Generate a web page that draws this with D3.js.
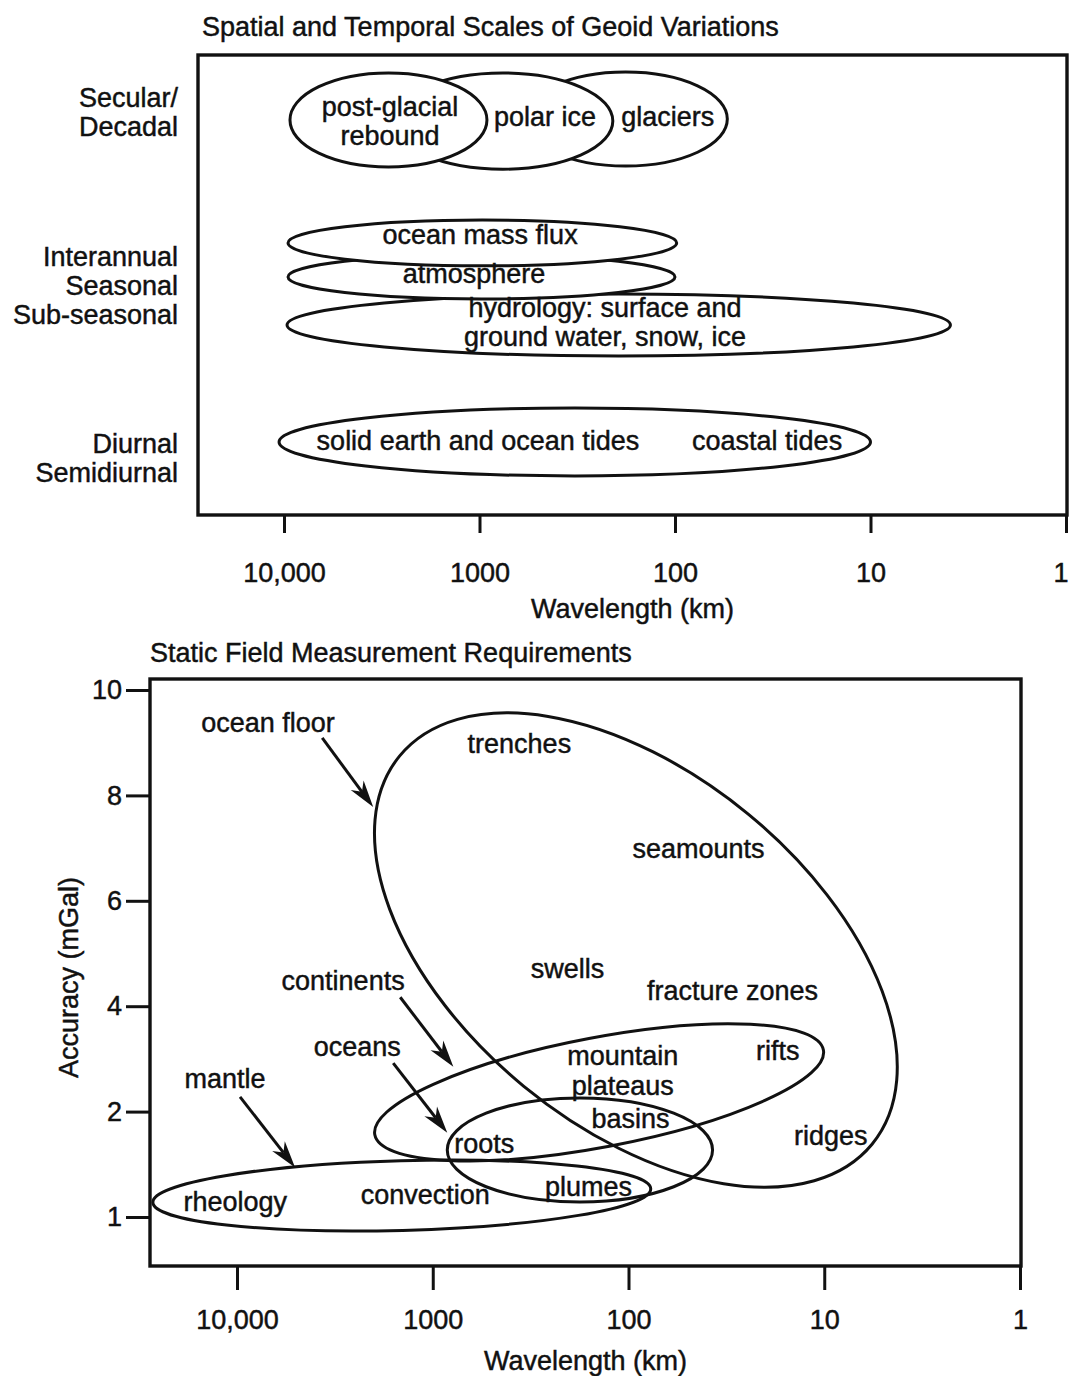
<!DOCTYPE html>
<html>
<head>
<meta charset="utf-8">
<script src="https://cdn.jsdelivr.net/npm/d3@7"></script>
<style>
  body { margin: 0; background: #fff; }
  svg text { font-family: "Liberation Sans", Arial, Helvetica, sans-serif; fill: #111; stroke: #111; stroke-width: 0.45px; }
</style>
</head>
<body>
<svg id="chart" width="1070" height="1376"></svg>
<script>
// ---------- data ----------
// wavelength ticks (km), shared by both panels
const wavelengthTicks = [10000, 1000, 100, 10, 1];

// upper panel: temporal bands (rows) and their text lines
const timeBands = ["secular", "interannual", "diurnal"];
const timeBandLabels = [
  ["Secular/", "Decadal"],
  ["Interannual", "Seasonal", "Sub-seasonal"],
  ["Diurnal", "Semidiurnal"]
];

// geoid signal sources: wavelength span [longest, shortest] in km,
// lane = offset from band centre and half = half-thickness, both in text lines
const geoidSources = [
  { name: "glaciers",             band: "secular",     span: [592, 54],    lane: 0.24,  half: 1.62 },
  { name: "polar ice",            band: "secular",     span: [2770, 208],  lane: 0.31,  half: 1.66 },
  { name: "post-glacial rebound", band: "secular",     span: [9320, 916],  lane: 0.27,  half: 1.62 },
  { name: "hydrology",            band: "interannual", span: [9650, 3.9],  lane: 1.38,  half: 1.07 },
  { name: "atmosphere",           band: "interannual", span: [9540, 100],  lane: -0.28, half: 0.76 },
  { name: "ocean mass flux",      band: "interannual", span: [9540, 98],   lane: -1.45, half: 0.79 },
  { name: "tides",                band: "diurnal",     span: [10600, 10],  lane: -0.55, half: 1.17 }
];

const geoidLabels = [
  { lines: ["post-glacial", "rebound"],                     band: "secular",     km: 2870, lane: 0.34 },
  { lines: ["polar ice"],                                   band: "secular",     km: 462,  lane: 0.2 },
  { lines: ["glaciers"],                                    band: "secular",     km: 109,  lane: 0.2 },
  { lines: ["ocean mass flux"],                             band: "interannual", km: 993,  lane: -1.69 },
  { lines: ["atmosphere"],                                  band: "interannual", km: 1067, lane: -0.34 },
  { lines: ["hydrology: surface and", "ground water, snow, ice"], band: "interannual", km: 228, lane: 1.31 },
  { lines: ["solid earth and ocean tides"],                 band: "diurnal",     km: 1018, lane: -0.55 },
  { lines: ["coastal tides"],                               band: "diurnal",     km: 33.8, lane: -0.55 }
];

// lower panel: accuracy ticks (mGal), equally spaced on the axis
const accuracyTicks = [1, 2, 4, 6, 8, 10];

// requirement regions: long axis from [km, mGal] to [km, mGal], width/length ratio
const requirementRegions = [
  { name: "ocean floor", from: [1475, 8.75],  to: [5.7, 1.69],  ratio: 0.577 },
  { name: "continents",  from: [1977, 1.78],  to: [10.1, 3.17], ratio: 0.24 },
  { name: "oceans",      from: [843, 1.636],  to: [37.2, 1.636], ratio: 0.392 },
  { name: "mantle",      from: [26900, 1.139], to: [77, 1.268], ratio: 0.14 }
];

const featureLabels = [
  { text: "trenches",       km: 361,   mgal: 8.96 },
  { text: "seamounts",      km: 43.9,  mgal: 6.96 },
  { text: "swells",         km: 205,   mgal: 4.69 },
  { text: "fracture zones", km: 29.4,  mgal: 4.27 },
  { text: "mountain",       km: 107,   mgal: 3.04 },
  { text: "plateaus",       km: 107,   mgal: 2.47 },
  { text: "rifts",          km: 17.3,  mgal: 3.13 },
  { text: "basins",         km: 97.7,  mgal: 1.92 },
  { text: "roots",          km: 545,   mgal: 1.68 },
  { text: "ridges",         km: 9.27,  mgal: 1.76 },
  { text: "plumes",         km: 160,   mgal: 1.275 },
  { text: "rheology",       km: 10200, mgal: 1.133 },
  { text: "convection",     km: 1092,  mgal: 1.2 }
];

// group names with arrows pointing at their regions
const groupArrows = [
  { text: "ocean floor", at: [6940, 9.35],  from: [3670, 9.09], to: [2015, 7.78] },
  { text: "continents",  at: [2870, 4.46],  from: [1466, 4.17], to: [785, 2.85] },
  { text: "oceans",      at: [2432, 3.21],  from: [1592, 2.92], to: [843, 1.80] },
  { text: "mantle",      at: [11520, 2.60], from: [9650, 2.28], to: [5050, 1.47] }
];

// ---------- layout ----------
const svg = d3.select("#chart");
const FS = 27;          // font size
const LINE = 29;        // text line height
const STROKE = 3;       // outline width
const fmtKm = d => d === 10000 ? "10,000" : String(d);

function arrowHead(g, x1, y1, x2, y2) {
  const L = 27, W = 16;
  const dx = x2 - x1, dy = y2 - y1, len = Math.hypot(dx, dy);
  const ux = dx / len, uy = dy / len, nx = -uy, ny = ux;
  const bx = x2 - ux * L, by = y2 - uy * L;
  const mx = x2 - ux * L * 0.7, my = y2 - uy * L * 0.7;
  g.append("line")
    .attr("x1", x1).attr("y1", y1).attr("x2", mx).attr("y2", my)
    .attr("stroke", "#111").attr("stroke-width", STROKE);
  g.append("path")
    .attr("d", `M${x2},${y2}L${bx + nx * W / 2},${by + ny * W / 2}L${mx},${my}L${bx - nx * W / 2},${by - ny * W / 2}Z`)
    .attr("fill", "#111");
}

function styleAxis(g) {
  g.select(".domain").remove();
  g.selectAll(".tick line").attr("stroke", "#111").attr("stroke-width", STROKE);
  g.selectAll(".tick text").attr("font-size", FS).attr("fill", "#111")
    .attr("font-family", "Liberation Sans, Arial, sans-serif");
}

// keep the right-most wavelength label inside the page
function tuckLastLabel(ax) {
  ax.selectAll(".tick").filter(d => d === 1).select("text")
    .attr("text-anchor", "end").attr("dx", 2);
}

// ---------- upper panel ----------
{
  const box = { x0: 198, x1: 1067, y0: 55, y1: 515 };
  const x = d3.scaleLog().domain([10000, 1]).range([284, 1066]);
  const band = d3.scalePoint().domain(timeBands).range([box.y0, box.y1]).padding(0.33);
  const g = svg.append("g");

  g.append("text").attr("x", 202).attr("y", 36).attr("font-size", FS)
    .text("Spatial and Temporal Scales of Geoid Variations");

  // band labels left of the box
  timeBands.forEach((b, i) => {
    const lines = timeBandLabels[i];
    lines.forEach((t, j) => {
      g.append("text")
        .attr("x", 178)
        .attr("y", band(b) + (j - (lines.length - 1) / 2) * LINE)
        .attr("dy", "0.36em")
        .attr("text-anchor", "end")
        .attr("font-size", FS)
        .text(t);
    });
  });

  // sources (drawn back to front, white filled)
  g.selectAll("ellipse.src").data(geoidSources).join("ellipse")
    .attr("class", "src")
    .attr("cx", d => (x(d.span[0]) + x(d.span[1])) / 2)
    .attr("rx", d => Math.abs(x(d.span[1]) - x(d.span[0])) / 2)
    .attr("cy", d => band(d.band) + d.lane * LINE)
    .attr("ry", d => d.half * LINE)
    .attr("fill", "#fff").attr("stroke", "#111").attr("stroke-width", STROKE);

  geoidLabels.forEach(d => {
    d.lines.forEach((t, j) => {
      g.append("text")
        .attr("x", x(d.km))
        .attr("y", band(d.band) + d.lane * LINE + (j - (d.lines.length - 1) / 2) * LINE)
        .attr("dy", "0.3em")
        .attr("text-anchor", "middle")
        .attr("font-size", FS)
        .text(t);
    });
  });

  g.append("rect")
    .attr("x", box.x0).attr("y", box.y0)
    .attr("width", box.x1 - box.x0).attr("height", box.y1 - box.y0)
    .attr("fill", "none").attr("stroke", "#111").attr("stroke-width", 3.4);

  const ax = g.append("g").attr("transform", `translate(0,${box.y1})`)
    .call(d3.axisBottom(x).tickValues(wavelengthTicks).tickFormat(fmtKm).tickSize(18).tickPadding(30));
  styleAxis(ax);
  tuckLastLabel(ax);

  g.append("text").attr("x", (box.x0 + box.x1) / 2).attr("y", 608).attr("dy", "0.36em")
    .attr("text-anchor", "middle").attr("font-size", FS).text("Wavelength (km)");
}

// ---------- lower panel ----------
{
  const box = { x0: 150, x1: 1021, y0: 679, y1: 1266 };
  const x = d3.scaleLog().domain([10000, 1]).range([237, 1020]);
  const yBottom = 1217, yTop = 690;
  const y = d3.scaleLinear().domain(accuracyTicks)
    .range(accuracyTicks.map((d, i) => yBottom - i * (yBottom - yTop) / (accuracyTicks.length - 1)));
  const g = svg.append("g");

  g.append("text").attr("x", 150).attr("y", 662).attr("font-size", FS)
    .text("Static Field Measurement Requirements");

  g.append("rect")
    .attr("x", box.x0).attr("y", box.y0)
    .attr("width", box.x1 - box.x0).attr("height", box.y1 - box.y0)
    .attr("fill", "none").attr("stroke", "#111").attr("stroke-width", 3.4);

  // requirement regions
  g.selectAll("ellipse.req").data(requirementRegions).join("ellipse")
    .attr("class", "req")
    .each(function (d) {
      const x1 = x(d.from[0]), y1 = y(d.from[1]), x2 = x(d.to[0]), y2 = y(d.to[1]);
      const cx = (x1 + x2) / 2, cy = (y1 + y2) / 2;
      const rx = Math.hypot(x2 - x1, y2 - y1) / 2;
      const ang = Math.atan2(y2 - y1, x2 - x1) * 180 / Math.PI;
      d3.select(this)
        .attr("cx", cx).attr("cy", cy).attr("rx", rx).attr("ry", rx * d.ratio)
        .attr("transform", `rotate(${ang},${cx},${cy})`);
    })
    .attr("fill", "none").attr("stroke", "#111").attr("stroke-width", STROKE);

  featureLabels.forEach(d => {
    g.append("text")
      .attr("x", x(d.km)).attr("y", y(d.mgal)).attr("dy", "0.3em")
      .attr("text-anchor", "middle").attr("font-size", FS)
      .text(d.text);
  });

  groupArrows.forEach(d => {
    g.append("text")
      .attr("x", x(d.at[0])).attr("y", y(d.at[1])).attr("dy", "0.3em")
      .attr("text-anchor", "middle").attr("font-size", FS)
      .text(d.text);
    arrowHead(g, x(d.from[0]), y(d.from[1]), x(d.to[0]), y(d.to[1]));
  });

  const ax = g.append("g").attr("transform", `translate(0,${box.y1})`)
    .call(d3.axisBottom(x).tickValues(wavelengthTicks).tickFormat(fmtKm).tickSize(24).tickPadding(20));
  styleAxis(ax);

  const ay = g.append("g").attr("transform", `translate(${box.x0},0)`)
    .call(d3.axisLeft(y).tickValues(accuracyTicks).tickSize(24).tickPadding(4));
  styleAxis(ay);

  g.append("text").attr("x", (box.x0 + box.x1) / 2).attr("y", 1360).attr("dy", "0.36em")
    .attr("text-anchor", "middle").attr("font-size", FS).text("Wavelength (km)");

  g.append("text")
    .attr("transform", `translate(68,${(y(1) + y(10)) / 2 + 24}) rotate(-90)`)
    .attr("dy", "0.36em").attr("text-anchor", "middle").attr("font-size", FS)
    .text("Accuracy (mGal)");
}
</script>
</body>
</html>
